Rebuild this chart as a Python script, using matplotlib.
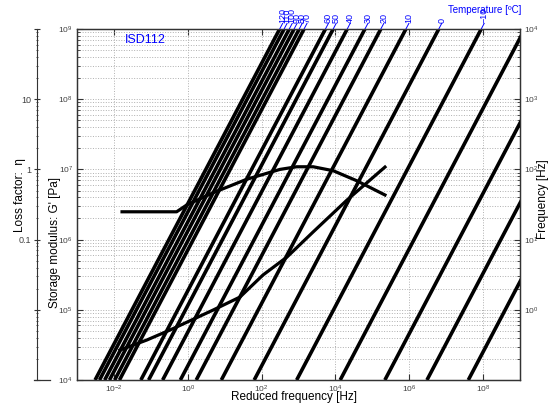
#
# Reduced frequency nomogram for ISD112, matplotlib

import matplotlib.pyplot as plt
import numpy as np

plt.rcParams['font.family'] = ['Liberation Sans', 'DejaVu Sans']
plt.rcParams['mathtext.fontset'] = 'custom'
plt.rcParams['mathtext.rm'] = 'Liberation Sans'
plt.rcParams['mathtext.default'] = 'regular'

# isotherms: temperature [C] and log10 of shift factor a_T
temps = [120, 110, 100, 90, 80, 70, 60, 50, 40, 30, 20, 10, 0, -10, -20, -30, -40, -50]
log_aT = [-1.51, -1.39, -1.25, -1.12, -0.98, -0.85, -0.27, -0.06, 0.32, 0.80,
          1.23, 1.91, 2.80, 3.95, 5.13, 6.34, 7.48, 8.60]

# storage modulus curve
freq_g = [0.0146, 0.0787, 0.330, 4.83, 26, 109, 488, 2470, 20600, 220000]
g_mod = [2.67e4, 3.72e4, 5.15e4, 9.9e4, 1.52e5, 3.13e5, 5.65e5, 1.28e6, 3.66e6, 1.08e7]

# loss factor curve
freq_eta = [0.0166, 0.50, 0.935, 4.92, 39.4, 315, 893, 2510, 8750, 37700, 220000]
eta = [0.249, 0.249, 0.311, 0.466, 0.723, 1.0, 1.09, 1.09, 0.957, 0.690, 0.432]

xticks = [1e-2, 1e0, 1e2, 1e4, 1e6, 1e8]
xlabels = ['$10^{-2}$', '$10^{0}$', '$10^{2}$', '$10^{4}$', '$10^{6}$', '$10^{8}$']
gticks = [1e4, 1e5, 1e6, 1e7, 1e8, 1e9]
glabels = ['$10^{4}$', '$10^{5}$', '$10^{6}$', '$10^{7}$', '$10^{8}$', '$10^{9}$']
fticks = [1e0, 1e1, 1e2, 1e3, 1e4]
flabels = ['$10^{0}$', '$10^{1}$', '$10^{2}$', '$10^{3}$', '$10^{4}$']
eticks = [1e-3, 1e-2, 0.1, 1, 10, 100]
elabels = ['', '', '0.1', '1', '10', '']

grey = '#333333'
tc = '#404040'

fig = plt.figure(figsize=(5.5, 4.15), dpi=100)
ax = fig.add_axes([77/550, 35/415, 443/550, 351/415])
ax.set_xscale('log')
ax.set_yscale('log')
ax.set_xlim(1e-3, 1e9)
ax.set_ylim(1e4, 1e9)
ax.set_xticks(xticks, xlabels)
ax.xaxis.set_minor_locator(plt.NullLocator())
ax.set_yticks(gticks, glabels)
ax.grid(True, which='major', axis='x', ls=':', color='#b0b0b0', lw=0.7)
ax.grid(True, which='both', axis='y', ls=':', color='#b0b0b0', lw=0.7)
ax.tick_params(which='both', direction='in', top=True, right=False,
               labelsize=6, colors=grey, labelcolor=tc, pad=3)
ax.tick_params(which='major', length=4)
ax.tick_params(which='minor', length=2)
for s in ax.spines.values():
    s.set_color(grey)
    s.set_linewidth(0.9)
ax.plot(freq_g, g_mod, color='k', lw=2.3)

# frequency axis on the right, isotherms live here
ax_f = ax.twinx()
ax_f.set_yscale('log')
ax_f.set_ylim(0.1, 1e4)
ax_f.set_yticks(fticks, flabels)
ax_f.tick_params(which='both', direction='in', labelsize=6, colors=grey,
                 labelcolor=tc, pad=3)
ax_f.tick_params(which='major', length=4)
ax_f.tick_params(which='minor', length=2)
for s in ax_f.spines.values():
    s.set_color(grey)
    s.set_linewidth(0.9)

f_lo, f_hi, f_lab = 0.1, 1e4, 10**4.08
for T, s in zip(temps, log_aT):
    a = 10**s
    if f_lab * a < 1e9:
        ax_f.plot([f_lo*a, f_lab*a], [f_lo, f_lab], color='b', lw=0.7, clip_on=False)
        ax_f.text(f_lab*a, f_lab, str(T).replace('-', '\u2212'), rotation=90,
                  ha='center', va='bottom', fontsize=6.5, color='b', clip_on=False)
    else:
        ax_f.plot([f_lo*a, f_hi*a], [f_lo, f_hi], color='b', lw=0.7)
    ax_f.plot([f_lo*a, f_hi*a], [f_lo, f_hi], color='k', lw=2.6, solid_capstyle='butt')

# loss factor axis, offset to the left
ax_e = ax.twinx()
ax_e.set_yscale('log')
ax_e.set_ylim(1e-3, 1e2)
ax_e.spines['left'].set_position(('axes', -0.0903))
ax_e.spines['left'].set_visible(True)
ax_e.spines['left'].set_color(grey)
for k in ['right', 'top', 'bottom']:
    ax_e.spines[k].set_visible(False)
ax_e.yaxis.set_ticks_position('left')
ax_e.set_yticks(eticks, elabels)
ax_e.tick_params(which='both', direction='inout', labelsize=6.5, colors=grey,
                 labelcolor=tc, pad=2)
ax_e.tick_params(which='major', length=4)
ax_e.tick_params(which='minor', length=2)
ax_e.plot(freq_eta, eta, color='k', lw=2.3)
ax.plot([-0.097, -0.062], [0, 0], transform=ax.transAxes, color=grey,
        lw=0.9, clip_on=False)

fig.text(20/550, 1 - 195/415, 'Loss factor:  \u03b7', rotation=90,
         ha='center', va='center', fontsize=8.5)
fig.text(55/550, 1 - 243/415, "Storage modulus: G' [Pa]", rotation=90,
         ha='center', va='center', fontsize=8.5)
fig.text(543/550, 1 - 199/415, 'Frequency [Hz]', rotation=90,
         ha='center', va='center', fontsize=8.5)
fig.text(294/550, 1 - 397/415, 'Reduced frequency [Hz]',
         ha='center', va='center', fontsize=8.5)
fig.text(521/550, 1 - 10/415, 'Temperature [\u00baC]',
         ha='right', va='center', fontsize=7, color='b')
fig.text(125/550, 1 - 40/415, 'ISD112', ha='left', va='center',
         fontsize=9, color='b')

plt.savefig('out.png')
